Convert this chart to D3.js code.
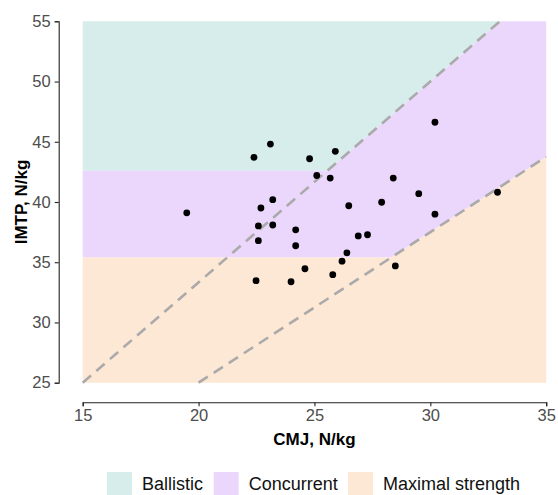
<!DOCTYPE html>
<html>
<head>
<meta charset="utf-8">
<script src="https://cdn.jsdelivr.net/npm/d3@7"></script>
<style>
  body { margin: 0; background: #fff; }
  svg { display: block; font-family: "Liberation Sans", Arial, sans-serif; }
</style>
</head>
<body>
<svg id="chart"></svg>
<script>
(function () {
  // CMJ (x) and IMTP (y), N/kg
  const cmj = [19.49, 22.39, 23.10, 22.69, 23.20, 22.58, 23.20, 22.58, 22.48, 24.79,
    25.90, 25.10, 25.68, 26.48, 27.90, 24.19, 24.19, 26.89, 27.29, 26.40,
    26.19, 24.59, 23.99, 25.79, 28.49, 30.20, 28.40, 29.50, 30.20, 32.90];
  const imtp = [39.10, 43.71, 44.81, 39.50, 40.19, 38.01, 38.09, 36.79, 33.47, 43.59,
    44.21, 42.20, 41.99, 39.69, 39.98, 37.69, 36.37, 37.18, 37.28, 35.78,
    35.09, 34.46, 33.38, 33.97, 34.69, 46.62, 41.99, 40.69, 38.99, 40.81];

  const xTicks = [15, 20, 25, 30, 35];
  const yTicks = [25, 30, 35, 40, 45, 50, 55];

  // zone boundaries: horizontal cut-offs and IMTP/CMJ ratio lines
  const cutoffs = [35.4, 42.6];
  const ratios = [1.25, 5 / 3];

  const zones = ['Ballistic', 'Concurrent', 'Maximal strength'];
  const zoneColors = ['#d6edeb', '#ebd6fc', '#fde7d5'];

  const width = 558, height = 495;
  const svg = d3.select('#chart').attr('width', width).attr('height', height);

  const x = d3.scaleLinear().domain([15, 35]).range([82.7, 546.2]);
  const y = d3.scaleLinear().domain([25, 55]).range([382.7, 21.3]);

  const [x0, x1] = x.domain();
  const [y0, y1] = y.domain();

  // Region polygons in data units
  const lowCut = cutoffs[0], highCut = cutoffs[1];
  const lowR = ratios[0], highR = ratios[1];
  const xHigh = highCut / highR;       // upper ratio line meets upper cut
  const xLow = lowCut / lowR;          // lower ratio line meets lower cut
  const xTop = y1 / highR;             // upper ratio line at top edge
  const yRight = lowR * x1;            // lower ratio line at right edge

  const ballistic = [[x0, highCut], [xHigh, highCut], [xTop, y1], [x0, y1]];
  const maximal = [[x0, y0], [x1, y0], [x1, yRight], [xLow, lowCut], [x0, lowCut]];
  const concurrent = [[x0, lowCut], [xLow, lowCut], [x1, yRight], [x1, y1], [xTop, y1], [xHigh, highCut], [x0, highCut]];

  const polys = [ballistic, concurrent, maximal];
  svg.append('g')
    .selectAll('polygon')
    .data(polys)
    .join('polygon')
    .attr('points', d => d.map(p => x(p[0]) + ',' + y(p[1])).join(' '))
    .attr('fill', (d, i) => zoneColors[i]);

  // Dashed ratio lines
  const ratioLines = ratios.map(r => {
    const xa = Math.max(x0, y0 / r);
    const xb = Math.min(x1, y1 / r);
    return [[xa, r * xa], [xb, r * xb]];
  });
  const line = d3.line().x(d => x(d[0])).y(d => y(d[1]));
  svg.append('g')
    .selectAll('path')
    .data(ratioLines)
    .join('path')
    .attr('d', line)
    .attr('fill', 'none')
    .attr('stroke', '#aaaaaa')
    .attr('stroke-width', 2.6)
    .attr('stroke-dasharray', '11,7');

  // Points
  svg.append('g')
    .selectAll('circle')
    .data(cmj.map((v, i) => [v, imtp[i]]))
    .join('circle')
    .attr('cx', d => x(d[0]))
    .attr('cy', d => y(d[1]))
    .attr('r', 3.4)
    .attr('fill', '#000');

  // Axes (offset from panel)
  const yAxis = svg.append('g')
    .attr('transform', 'translate(58.7,0)')
    .call(d3.axisLeft(y).tickValues(yTicks).tickSizeOuter(0).tickSize(4).tickPadding(4));
  const xAxis = svg.append('g')
    .attr('transform', 'translate(0,402.3)')
    .call(d3.axisBottom(x).tickValues(xTicks).tickSizeOuter(0).tickSize(4).tickPadding(3));

  [xAxis, yAxis].forEach(g => {
    g.select('.domain').attr('stroke', '#222').attr('stroke-width', 1.1);
    g.selectAll('.tick line').attr('stroke', '#222').attr('stroke-width', 1.1);
    g.selectAll('.tick text')
      .attr('fill', '#4d4d4d')
      .attr('font-size', '16.5px')
      .attr('font-family', '"Liberation Sans", Arial, sans-serif');
  });

  // Axis titles
  svg.append('text')
    .attr('x', (x(x0) + x(x1)) / 2)
    .attr('y', 445)
    .attr('text-anchor', 'middle')
    .attr('font-size', '17px')
    .attr('font-weight', 'bold')
    .text('CMJ, N/kg');

  svg.append('text')
    .attr('transform', 'translate(27,' + ((y(y0) + y(y1)) / 2) + ') rotate(-90)')
    .attr('text-anchor', 'middle')
    .attr('font-size', '17px')
    .attr('font-weight', 'bold')
    .text('IMTP, N/kg');

  // Legend
  const legendX = [107, 213.7, 348];
  const legend = svg.append('g')
    .selectAll('g')
    .data(zones)
    .join('g')
    .attr('transform', (d, i) => 'translate(' + legendX[i] + ',472)');
  legend.append('rect')
    .attr('width', 25)
    .attr('height', 25)
    .attr('fill', (d, i) => zoneColors[i]);
  legend.append('text')
    .attr('x', 35)
    .attr('y', 18)
    .attr('font-size', '18px')
    .attr('fill', '#111')
    .text(d => d);
})();
</script>
</body>
</html>
